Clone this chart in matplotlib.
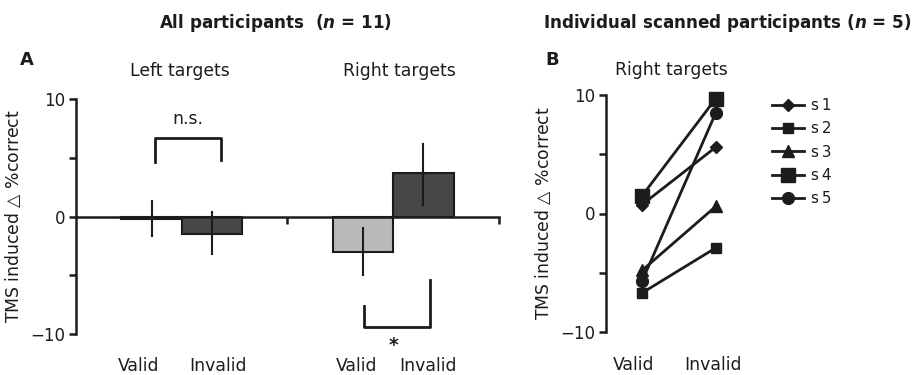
import matplotlib.pyplot as plt

# ---- data -------------------------------------------------------------
bar_pos = [0.0, 1.0, 3.5, 4.5]
bar_vals = [-0.25, -1.45, -3.0, 3.7]
err_lo = [-1.7, -3.2, -5.0, 1.0]
err_hi = [1.3, 0.35, -1.0, 6.2]
bar_colors = ['#8a8a8a', '#474747', '#bababa', '#474747']

conds = ['Valid', 'Invalid']
subjects = ['s\u20091', 's\u20092', 's\u20093', 's\u20094', 's\u20095']
valid_vals = [0.75, -6.7, -4.8, 1.5, -5.7]
invalid_vals = [5.6, -2.9, 0.6, 9.7, 8.5]
markers = ['D', 's', '^', 's', 'o']
msizes = [6.5, 7.5, 8.5, 10.5, 8.5]

ylab = 'TMS induced $\\bigtriangleup$ %correct'
ink = '#1c1c1c'
fs = 12.4

plt.rcParams['font.family'] = 'DejaVu Sans'
plt.rcParams['mathtext.fontset'] = 'dejavusans'
fig = plt.figure(figsize=(9.2, 3.75), dpi=100)

W, H = 920.0, 375.0
def box(x0, y_top, x1, y_bot):
    return [x0 / W, 1 - y_bot / H, (x1 - x0) / W, (y_bot - y_top) / H]

# ---- panel A ----------------------------------------------------------
ax = fig.add_axes(box(76, 99, 499, 334))
ax.bar(bar_pos, bar_vals, width=1.0, color=bar_colors, edgecolor=ink,
       linewidth=1.5, zorder=2)
for x, lo, hi in zip(bar_pos, err_lo, err_hi):
    ax.plot([x, x], [lo, hi], color=ink, lw=1.5, zorder=3)
ax.set_xlim(-1.25, 5.75)
ax.set_ylim(-10, 10)
for s in ['top', 'right']:
    ax.spines[s].set_visible(False)
ax.spines['bottom'].set_position(('data', 0))
ax.spines['bottom'].set_zorder(4)
for s in ['left', 'bottom']:
    ax.spines[s].set_linewidth(1.8)
    ax.spines[s].set_color(ink)
ax.set_xticks([2.25, 5.75])
ax.set_xticklabels([])
ax.set_yticks([-10, -5, 0, 5, 10])
ax.set_yticklabels(['\u221210', '', '0', '', '10'])
ax.tick_params(axis='both', direction='out', length=5, width=1.8,
               color=ink, labelsize=fs - 0.4, labelcolor=ink, pad=3)
ax.set_ylabel(ylab, fontsize=fs, color=ink, labelpad=5)

# significance brackets
ax.plot([0.05, 0.05, 1.15, 1.15], [4.6, 6.7, 6.7, 4.8], color=ink, lw=2,
        clip_on=False)
ax.text(0.6, 8.3, 'n.s.', ha='center', va='center', fontsize=fs, color=ink)
ax.plot([3.52, 3.52, 4.6, 4.6], [-7.6, -9.4, -9.4, -5.4], color=ink, lw=2,
        clip_on=False)
ax.text(4.0, -11.0, '*', ha='center', va='center', fontsize=fs + 1,
        color=ink, fontweight='bold')

for x, lab in zip([-0.22, 1.1, 3.4, 4.58], conds * 2):
    ax.text(x, -12.7, lab, ha='center', va='center', fontsize=fs, color=ink)
ax.text(0.47, 12.4, 'Left targets', ha='center', va='center', fontsize=fs,
        color=ink)
ax.text(4.1, 12.4, 'Right targets', ha='center', va='center', fontsize=fs,
        color=ink)

# ---- panel B ----------------------------------------------------------
bx = fig.add_axes(box(606, 95, 760, 332))
for i, name in enumerate(subjects):
    bx.plot([0, 1], [valid_vals[i], invalid_vals[i]], color=ink, lw=2,
            marker=markers[i], ms=msizes[i], mfc=ink, mec=ink, label=name,
            clip_on=False, zorder=3 + i)
bx.set_xlim(-0.49, 1.6)
bx.set_ylim(-10, 10)
for s in ['top', 'right', 'bottom']:
    bx.spines[s].set_visible(False)
bx.spines['left'].set_linewidth(1.8)
bx.spines['left'].set_color(ink)
bx.set_xticks([])
bx.set_yticks([-10, -5, 0, 5, 10])
bx.set_yticklabels(['\u221210', '', '0', '', '10'])
bx.tick_params(axis='y', direction='out', length=5, width=1.8, color=ink,
               labelsize=fs - 0.4, labelcolor=ink, pad=3)
bx.set_ylabel(ylab, fontsize=fs, color=ink, labelpad=5)
for x, lab in zip([-0.12, 0.96], conds):
    bx.text(x, -12.8, lab, ha='center', va='center', fontsize=fs, color=ink)
bx.text(0.4, 12.1, 'Right targets', ha='center', va='center', fontsize=fs,
        color=ink)

fig.legend(*bx.get_legend_handles_labels(), loc='upper left',
           bbox_to_anchor=(772 / W, 1 - 98 / H), frameon=False,
           fontsize=fs - 1.5, handlelength=2.1, handletextpad=0.45,
           labelspacing=0.55, borderpad=0, borderaxespad=0,
           labelcolor=ink)

# ---- titles and panel letters ----------------------------------------
fig.text(275 / W, 1 - 23 / H, 'All participants  ($\\boldsymbol{n}$ = 11)',
         ha='center', va='center', fontsize=fs - 0.3, fontweight='bold',
         color=ink)
fig.text(727 / W, 1 - 23 / H,
         'Individual scanned participants ($\\boldsymbol{n}$ = 5)',
         ha='center', va='center', fontsize=fs - 0.3, fontweight='bold',
         color=ink)
fig.text(27 / W, 1 - 60 / H, 'A', ha='center', va='center', fontsize=fs + 0.5,
         fontweight='bold', color=ink)
fig.text(552 / W, 1 - 60 / H, 'B', ha='center', va='center', fontsize=fs + 0.5,
         fontweight='bold', color=ink)

fig.savefig('out.png', dpi=100)
